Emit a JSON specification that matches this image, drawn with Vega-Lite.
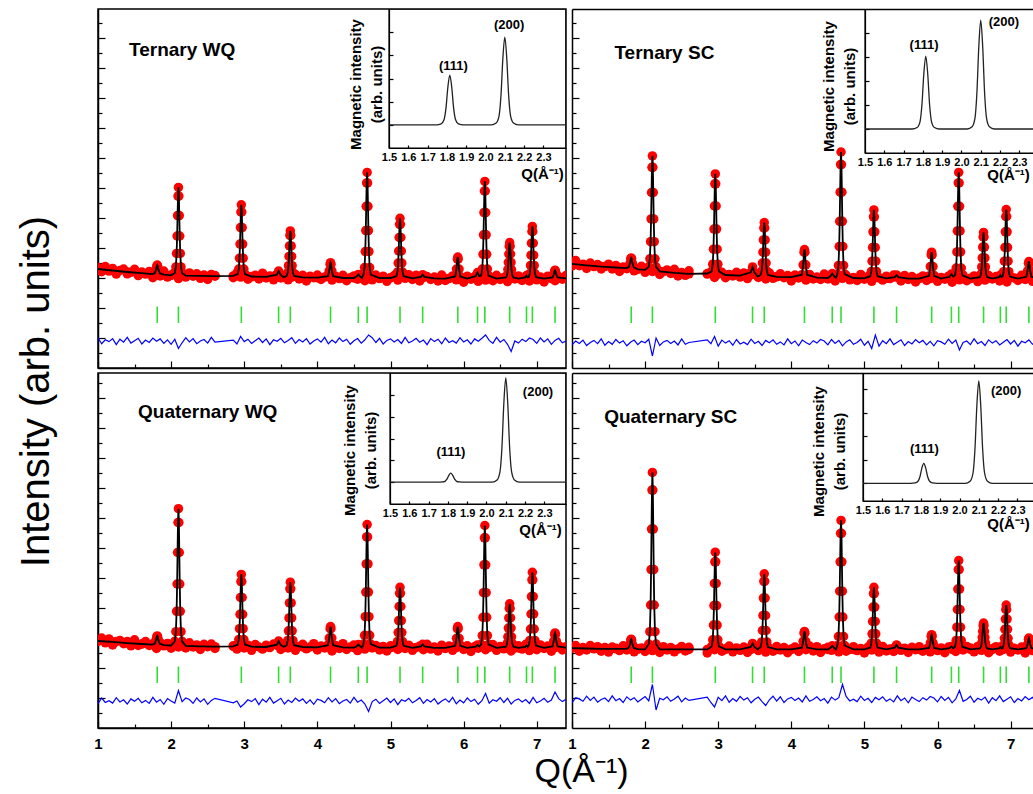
{
"$schema": "https://vega.github.io/schema/vega-lite/v6.json",
"padding": {"left": 15, "top": 8, "right": 0, "bottom": 0},
"background": "white",
"config": {
  "view": {"stroke": "#000", "strokeWidth": 1.5},
  "font": "Liberation Sans",
  "axis": {"grid": false, "domainColor": "#000", "tickColor": "#000", "labelColor": "#000", "titleColor": "#000", "domainWidth": 1.5, "tickWidth": 1.2}
},
"datasets": {
"bragg": [{"q":1.81},{"q":2.10},{"q":2.96},{"q":3.47},{"q":3.63},{"q":4.18},{"q":4.56},{"q":4.68},{"q":5.13},{"q":5.44},{"q":5.92},{"q":6.19},{"q":6.29},{"q":6.63},{"q":6.86},{"q":6.94},{"q":7.25}],
"ins": [
{"q":1.5,"a":0,"b":0,"c":0,"d":0},
{"q":1.745,"a":0,"b":0,"c":0,"d":0},
{"q":1.77,"a":0.04,"b":0.06,"c":0.01,"d":0.02},
{"q":1.785,"a":0.22,"b":0.3,"c":0.04,"d":0.09},
{"q":1.795,"a":0.71,"b":1.0,"c":0.14,"d":0.28},
{"q":1.805,"a":1.63,"b":2.31,"c":0.31,"d":0.65},
{"q":1.815,"a":2.15,"b":3.04,"c":0.41,"d":0.85},
{"q":1.825,"a":1.63,"b":2.31,"c":0.31,"d":0.65},
{"q":1.835,"a":0.71,"b":1.0,"c":0.14,"d":0.28},
{"q":1.845,"a":0.22,"b":0.3,"c":0.04,"d":0.09},
{"q":1.86,"a":0.04,"b":0.06,"c":0.01,"d":0.02},
{"q":1.885,"a":0,"b":0,"c":0,"d":0},
{"q":2.03,"a":0,"b":0,"c":0,"d":0},
{"q":2.055,"a":0.08,"b":0.09,"c":0.1,"d":0.09},
{"q":2.07,"a":0.38,"b":0.45,"c":0.48,"d":0.44},
{"q":2.08,"a":1.25,"b":1.5,"c":1.58,"d":1.44},
{"q":2.09,"a":2.88,"b":3.45,"c":3.63,"d":3.31},
{"q":2.1,"a":3.79,"b":4.54,"c":4.78,"d":4.35},
{"q":2.11,"a":2.88,"b":3.45,"c":3.63,"d":3.31},
{"q":2.12,"a":1.25,"b":1.5,"c":1.58,"d":1.44},
{"q":2.13,"a":0.38,"b":0.45,"c":0.48,"d":0.44},
{"q":2.145,"a":0.08,"b":0.09,"c":0.1,"d":0.09},
{"q":2.17,"a":0,"b":0,"c":0,"d":0},
{"q":2.6,"a":0,"b":0,"c":0,"d":0}
],
"prof": [
{"q":1.0,"a":3.3,"b":3.47,"c":2.9,"d":2.66},
{"q":1.2,"a":3.25,"b":3.42,"c":2.87,"d":2.65},
{"q":1.4,"a":3.2,"b":3.38,"c":2.83,"d":2.64},
{"q":1.6,"a":3.16,"b":3.35,"c":2.8,"d":2.64},
{"q":1.74,"a":3.13,"b":3.33,"c":2.78,"d":2.64},
{"q":1.775,"a":3.16,"b":3.36,"c":2.81,"d":2.67},
{"q":1.792,"a":3.27,"b":3.48,"c":2.91,"d":2.78},
{"q":1.804,"a":3.4,"b":3.64,"c":3.04,"d":2.93},
{"q":1.81,"a":3.43,"b":3.67,"c":3.07,"d":2.96},
{"q":1.816,"a":3.4,"b":3.64,"c":3.04,"d":2.93},
{"q":1.828,"a":3.27,"b":3.48,"c":2.91,"d":2.78},
{"q":1.845,"a":3.16,"b":3.36,"c":2.81,"d":2.67},
{"q":1.9,"a":3.11,"b":3.29,"c":2.76,"d":2.63},
{"q":2.0,"a":3.09,"b":3.27,"c":2.75,"d":2.62},
{"q":2.05,"a":3.17,"b":3.37,"c":2.89,"d":2.8},
{"q":2.065,"a":3.37,"b":3.64,"c":3.21,"d":3.21},
{"q":2.075,"a":3.82,"b":4.21,"c":3.89,"d":4.1},
{"q":2.082,"a":4.4,"b":4.97,"c":4.8,"d":5.28},
{"q":2.088,"a":5.08,"b":5.85,"c":5.85,"d":6.63},
{"q":2.094,"a":5.73,"b":6.69,"c":6.85,"d":7.93},
{"q":2.1,"a":6.02,"b":7.07,"c":7.31,"d":8.52},
{"q":2.106,"a":5.73,"b":6.69,"c":6.85,"d":7.93},
{"q":2.112,"a":5.08,"b":5.85,"c":5.85,"d":6.63},
{"q":2.118,"a":4.4,"b":4.97,"c":4.8,"d":5.28},
{"q":2.125,"a":3.82,"b":4.21,"c":3.89,"d":4.1},
{"q":2.135,"a":3.37,"b":3.64,"c":3.21,"d":3.21},
{"q":2.15,"a":3.17,"b":3.37,"c":2.89,"d":2.8},
{"q":2.2,"a":3.08,"b":3.22,"c":2.74,"d":2.62},
{"q":2.4,"a":3.07,"b":3.17,"c":2.72,"d":2.62},
{"q":2.6,"a":3.06,"b":3.14,"c":2.71,"d":2.62},
{"q":2.85,"a":3.07,"b":3.15,"c":2.72,"d":2.62},
{"q":2.91,"a":3.13,"b":3.22,"c":2.78,"d":2.72},
{"q":2.925,"a":3.3,"b":3.46,"c":2.95,"d":2.94},
{"q":2.935,"a":3.66,"b":3.96,"c":3.31,"d":3.43},
{"q":2.942,"a":4.13,"b":4.63,"c":3.79,"d":4.08},
{"q":2.948,"a":4.68,"b":5.4,"c":4.35,"d":4.82},
{"q":2.954,"a":5.2,"b":6.14,"c":4.88,"d":5.54},
{"q":2.96,"a":5.44,"b":6.47,"c":5.12,"d":5.86},
{"q":2.966,"a":5.2,"b":6.14,"c":4.88,"d":5.54},
{"q":2.972,"a":4.68,"b":5.4,"c":4.35,"d":4.82},
{"q":2.978,"a":4.13,"b":4.63,"c":3.79,"d":4.08},
{"q":2.985,"a":3.66,"b":3.96,"c":3.31,"d":3.43},
{"q":2.995,"a":3.3,"b":3.46,"c":2.95,"d":2.94},
{"q":3.01,"a":3.13,"b":3.22,"c":2.78,"d":2.72},
{"q":3.1,"a":3.05,"b":3.1,"c":2.71,"d":2.62},
{"q":3.3,"a":3.04,"b":3.08,"c":2.7,"d":2.62},
{"q":3.445,"a":3.11,"b":3.19,"c":2.78,"d":2.7},
{"q":3.47,"a":3.23,"b":3.37,"c":2.9,"d":2.82},
{"q":3.495,"a":3.11,"b":3.19,"c":2.78,"d":2.7},
{"q":3.54,"a":3.02,"b":3.05,"c":2.7,"d":2.62},
{"q":3.58,"a":3.07,"b":3.1,"c":2.76,"d":2.7},
{"q":3.595,"a":3.18,"b":3.23,"c":2.92,"d":2.87},
{"q":3.605,"a":3.41,"b":3.5,"c":3.24,"d":3.25},
{"q":3.612,"a":3.72,"b":3.86,"c":3.67,"d":3.75},
{"q":3.618,"a":4.07,"b":4.27,"c":4.17,"d":4.33},
{"q":3.624,"a":4.42,"b":4.67,"c":4.64,"d":4.89},
{"q":3.63,"a":4.57,"b":4.85,"c":4.86,"d":5.14},
{"q":3.636,"a":4.42,"b":4.67,"c":4.64,"d":4.89},
{"q":3.642,"a":4.07,"b":4.27,"c":4.17,"d":4.33},
{"q":3.648,"a":3.72,"b":3.86,"c":3.67,"d":3.75},
{"q":3.655,"a":3.41,"b":3.5,"c":3.24,"d":3.25},
{"q":3.665,"a":3.18,"b":3.23,"c":2.92,"d":2.87},
{"q":3.68,"a":3.07,"b":3.1,"c":2.76,"d":2.7},
{"q":3.8,"a":3.02,"b":3.04,"c":2.7,"d":2.62},
{"q":4.0,"a":3.01,"b":3.03,"c":2.69,"d":2.62},
{"q":4.145,"a":3.06,"b":3.11,"c":2.76,"d":2.68},
{"q":4.162,"a":3.24,"b":3.44,"c":3.0,"d":2.89},
{"q":4.174,"a":3.46,"b":3.86,"c":3.31,"d":3.16},
{"q":4.18,"a":3.51,"b":3.95,"c":3.38,"d":3.22},
{"q":4.186,"a":3.46,"b":3.86,"c":3.31,"d":3.16},
{"q":4.198,"a":3.24,"b":3.44,"c":3.0,"d":2.89},
{"q":4.215,"a":3.06,"b":3.11,"c":2.76,"d":2.68},
{"q":4.35,"a":3.0,"b":3.01,"c":2.69,"d":2.62},
{"q":4.5,"a":3.0,"b":3.0,"c":2.68,"d":2.62},
{"q":4.535,"a":3.05,"b":3.06,"c":2.72,"d":2.67},
{"q":4.56,"a":3.12,"b":3.15,"c":2.78,"d":2.74},
{"q":4.585,"a":3.05,"b":3.06,"c":2.72,"d":2.67},
{"q":4.61,"a":3.0,"b":3.0,"c":2.68,"d":2.62},
{"q":4.63,"a":3.11,"b":3.13,"c":2.8,"d":2.75},
{"q":4.645,"a":3.35,"b":3.42,"c":3.09,"d":3.05},
{"q":4.655,"a":3.88,"b":4.05,"c":3.71,"d":3.7},
{"q":4.662,"a":4.58,"b":4.89,"c":4.53,"d":4.56},
{"q":4.668,"a":5.39,"b":5.86,"c":5.47,"d":5.54},
{"q":4.674,"a":6.17,"b":6.78,"c":6.37,"d":6.49},
{"q":4.68,"a":6.52,"b":7.2,"c":6.78,"d":6.92},
{"q":4.686,"a":6.17,"b":6.78,"c":6.37,"d":6.49},
{"q":4.692,"a":5.39,"b":5.86,"c":5.47,"d":5.54},
{"q":4.698,"a":4.58,"b":4.89,"c":4.53,"d":4.56},
{"q":4.705,"a":3.88,"b":4.05,"c":3.71,"d":3.7},
{"q":4.715,"a":3.35,"b":3.42,"c":3.09,"d":3.05},
{"q":4.73,"a":3.11,"b":3.13,"c":2.8,"d":2.75},
{"q":4.85,"a":3.0,"b":3.0,"c":2.68,"d":2.62},
{"q":5.0,"a":3.0,"b":2.99,"c":2.68,"d":2.62},
{"q":5.08,"a":3.06,"b":3.06,"c":2.74,"d":2.68},
{"q":5.095,"a":3.2,"b":3.22,"c":2.88,"d":2.83},
{"q":5.105,"a":3.5,"b":3.56,"c":3.18,"d":3.14},
{"q":5.112,"a":3.9,"b":4.02,"c":3.58,"d":3.55},
{"q":5.118,"a":4.35,"b":4.54,"c":4.05,"d":4.03},
{"q":5.124,"a":4.79,"b":5.04,"c":4.49,"d":4.48},
{"q":5.13,"a":4.99,"b":5.27,"c":4.69,"d":4.69},
{"q":5.136,"a":4.79,"b":5.04,"c":4.49,"d":4.48},
{"q":5.142,"a":4.35,"b":4.54,"c":4.05,"d":4.03},
{"q":5.148,"a":3.9,"b":4.02,"c":3.58,"d":3.55},
{"q":5.155,"a":3.5,"b":3.56,"c":3.18,"d":3.14},
{"q":5.165,"a":3.2,"b":3.22,"c":2.88,"d":2.83},
{"q":5.18,"a":3.06,"b":3.06,"c":2.74,"d":2.68},
{"q":5.3,"a":2.99,"b":2.99,"c":2.67,"d":2.62},
{"q":5.415,"a":3.04,"b":3.03,"c":2.72,"d":2.68},
{"q":5.44,"a":3.11,"b":3.1,"c":2.79,"d":2.77},
{"q":5.465,"a":3.04,"b":3.03,"c":2.72,"d":2.68},
{"q":5.6,"a":2.99,"b":2.98,"c":2.67,"d":2.62},
{"q":5.75,"a":2.98,"b":2.98,"c":2.67,"d":2.62},
{"q":5.885,"a":3.05,"b":3.07,"c":2.74,"d":2.67},
{"q":5.902,"a":3.3,"b":3.38,"c":2.99,"d":2.84},
{"q":5.914,"a":3.63,"b":3.77,"c":3.31,"d":3.06},
{"q":5.92,"a":3.7,"b":3.86,"c":3.38,"d":3.11},
{"q":5.926,"a":3.63,"b":3.77,"c":3.31,"d":3.06},
{"q":5.938,"a":3.3,"b":3.38,"c":2.99,"d":2.84},
{"q":5.955,"a":3.05,"b":3.07,"c":2.74,"d":2.67},
{"q":6.05,"a":2.98,"b":2.98,"c":2.67,"d":2.62},
{"q":6.165,"a":3.06,"b":3.04,"c":2.71,"d":2.66},
{"q":6.19,"a":3.18,"b":3.13,"c":2.77,"d":2.72},
{"q":6.215,"a":3.06,"b":3.04,"c":2.71,"d":2.66},
{"q":6.24,"a":3.08,"b":3.09,"c":2.79,"d":2.71},
{"q":6.255,"a":3.3,"b":3.33,"c":3.08,"d":2.92},
{"q":6.265,"a":3.79,"b":3.87,"c":3.69,"d":3.36},
{"q":6.272,"a":4.44,"b":4.57,"c":4.51,"d":3.95},
{"q":6.278,"a":5.18,"b":5.39,"c":5.44,"d":4.63},
{"q":6.284,"a":5.9,"b":6.17,"c":6.34,"d":5.28},
{"q":6.29,"a":6.22,"b":6.52,"c":6.75,"d":5.58},
{"q":6.296,"a":5.9,"b":6.17,"c":6.34,"d":5.28},
{"q":6.302,"a":5.18,"b":5.39,"c":5.44,"d":4.63},
{"q":6.308,"a":4.44,"b":4.57,"c":4.51,"d":3.95},
{"q":6.315,"a":3.79,"b":3.87,"c":3.69,"d":3.36},
{"q":6.325,"a":3.3,"b":3.33,"c":3.08,"d":2.92},
{"q":6.34,"a":3.08,"b":3.09,"c":2.79,"d":2.71},
{"q":6.45,"a":2.98,"b":2.98,"c":2.67,"d":2.62},
{"q":6.58,"a":3.02,"b":3.03,"c":2.71,"d":2.65},
{"q":6.595,"a":3.1,"b":3.13,"c":2.82,"d":2.71},
{"q":6.605,"a":3.28,"b":3.37,"c":3.04,"d":2.84},
{"q":6.612,"a":3.52,"b":3.67,"c":3.33,"d":3.02},
{"q":6.618,"a":3.8,"b":4.03,"c":3.67,"d":3.22},
{"q":6.624,"a":4.06,"b":4.37,"c":3.99,"d":3.41},
{"q":6.63,"a":4.18,"b":4.52,"c":4.14,"d":3.5},
{"q":6.636,"a":4.06,"b":4.37,"c":3.99,"d":3.41},
{"q":6.642,"a":3.8,"b":4.03,"c":3.67,"d":3.22},
{"q":6.648,"a":3.52,"b":3.67,"c":3.33,"d":3.02},
{"q":6.655,"a":3.28,"b":3.37,"c":3.04,"d":2.84},
{"q":6.665,"a":3.1,"b":3.13,"c":2.82,"d":2.71},
{"q":6.68,"a":3.02,"b":3.03,"c":2.71,"d":2.65},
{"q":6.75,"a":2.98,"b":2.98,"c":2.67,"d":2.62},
{"q":6.84,"a":3.02,"b":3.03,"c":2.7,"d":2.65},
{"q":6.86,"a":3.08,"b":3.1,"c":2.75,"d":2.7},
{"q":6.875,"a":3.02,"b":3.03,"c":2.7,"d":2.65},
{"q":6.89,"a":3.03,"b":3.05,"c":2.75,"d":2.66},
{"q":6.905,"a":3.15,"b":3.21,"c":2.92,"d":2.77},
{"q":6.915,"a":3.42,"b":3.56,"c":3.3,"d":2.99},
{"q":6.922,"a":3.76,"b":4.02,"c":3.8,"d":3.29},
{"q":6.928,"a":4.16,"b":4.54,"c":4.38,"d":3.63},
{"q":6.934,"a":4.55,"b":5.05,"c":4.94,"d":3.95},
{"q":6.94,"a":4.72,"b":5.28,"c":5.19,"d":4.1},
{"q":6.946,"a":4.55,"b":5.05,"c":4.94,"d":3.95},
{"q":6.952,"a":4.16,"b":4.54,"c":4.38,"d":3.63},
{"q":6.958,"a":3.76,"b":4.02,"c":3.8,"d":3.29},
{"q":6.965,"a":3.42,"b":3.56,"c":3.3,"d":2.99},
{"q":6.975,"a":3.15,"b":3.21,"c":2.92,"d":2.77},
{"q":6.99,"a":3.03,"b":3.05,"c":2.75,"d":2.66},
{"q":7.1,"a":2.98,"b":2.98,"c":2.67,"d":2.62},
{"q":7.215,"a":3.02,"b":3.04,"c":2.72,"d":2.66},
{"q":7.232,"a":3.11,"b":3.24,"c":2.9,"d":2.79},
{"q":7.244,"a":3.23,"b":3.49,"c":3.12,"d":2.96},
{"q":7.25,"a":3.26,"b":3.55,"c":3.17,"d":3.0},
{"q":7.256,"a":3.23,"b":3.49,"c":3.12,"d":2.96},
{"q":7.268,"a":3.11,"b":3.24,"c":2.9,"d":2.79},
{"q":7.285,"a":3.02,"b":3.04,"c":2.72,"d":2.66},
{"q":7.4,"a":2.99,"b":2.98,"c":2.68,"d":2.62}
],
"nz": [
{"q":1.00,"a":3.35,"b":3.40,"c":2.89,"d":2.67,"e":1.01,"f":0.77,"g":0.81,"h":0.84},
{"q":1.05,"a":3.21,"b":3.58,"c":3.00,"d":2.75,"e":0.81,"f":0.90,"g":1.00,"h":1.01},
{"q":1.10,"a":3.38,"b":3.41,"c":2.84,"d":2.56,"e":0.94,"f":0.82,"g":0.85,"h":0.97},
{"q":1.15,"a":3.23,"b":3.46,"c":2.97,"d":2.68,"e":0.88,"f":0.93,"g":0.91,"h":0.89},
{"q":1.20,"a":3.32,"b":3.32,"c":2.77,"d":2.60,"e":0.98,"f":0.75,"g":0.83,"h":1.06},
{"q":1.25,"a":3.13,"b":3.50,"c":2.88,"d":2.75,"e":0.78,"f":0.85,"g":1.01,"h":0.92},
{"q":1.30,"a":3.25,"b":3.38,"c":2.92,"d":2.64,"e":0.96,"f":0.92,"g":0.87,"h":1.03},
{"q":1.35,"a":3.30,"b":3.45,"c":2.81,"d":2.71,"e":0.86,"f":0.81,"g":0.94,"h":0.86},
{"q":1.40,"a":3.14,"b":3.30,"c":2.88,"d":2.56,"e":1.02,"f":0.97,"g":0.80,"h":0.95},
{"q":1.45,"a":3.19,"b":3.38,"c":2.74,"d":2.68,"e":0.83,"f":0.76,"g":0.97,"h":1.00},
{"q":1.50,"a":3.29,"b":3.46,"c":2.94,"d":2.53,"e":0.91,"f":0.88,"g":0.89,"h":0.88},
{"q":1.55,"a":3.08,"b":3.30,"c":2.75,"d":2.70,"e":0.99,"f":0.79,"g":0.99,"h":1.07},
{"q":1.60,"a":3.20,"b":3.42,"c":2.80,"d":2.66,"e":0.80,"f":0.95,"g":0.84,"h":0.91},
{"q":1.65,"a":3.13,"b":3.22,"c":2.88,"d":2.58,"e":0.93,"f":0.83,"g":0.92,"h":0.98},
{"q":1.70,"a":3.22,"b":3.37,"c":2.75,"d":2.74,"e":0.85,"f":0.91,"g":0.82,"h":0.85},
{"q":1.75,"a":3.01,"b":3.31,"c":2.81,"d":2.60,"e":1.00,"f":0.74,"g":1.02,"h":1.04},
{"q":1.80,"a":3.18,"b":3.40,"c":2.65,"d":2.71,"e":0.89,"f":0.86,"g":0.86,"h":0.93},
{"q":1.85,"a":3.07,"b":3.24,"c":2.85,"d":2.54,"e":0.97,"f":0.93,"g":0.95,"h":1.01},
{"q":1.90,"a":3.23,"b":3.31,"c":2.74,"d":2.63,"e":0.82,"f":0.78,"g":0.79,"h":0.87},
{"q":1.95,"a":3.03,"b":3.39,"c":2.82,"d":2.67,"e":0.94,"f":0.89,"g":0.98,"h":0.96},
{"q":2.00,"a":3.10,"b":3.19,"c":2.66,"d":2.55,"e":0.79,"f":0.84,"g":0.90,"h":1.05},
{"q":2.05,"a":3.18,"b":3.31,"c":2.85,"d":2.74,"e":0.96,"f":0.96,"g":0.83,"h":0.90},
{"q":2.10,"a":2.98,"b":3.22,"c":2.70,"d":2.58,"e":0.65,"f":0.40,"g":1.25,"h":1.45},
{"q":2.15,"a":3.11,"b":3.32,"c":2.75,"d":2.65,"e":0.84,"f":1.00,"g":0.88,"h":0.60},
{"q":2.20,"a":3.03,"b":3.12,"c":2.67,"d":2.52,"e":1.01,"f":0.75,"g":1.00,"h":0.99},
{"q":2.25,"a":3.17,"b":3.21,"c":2.84,"d":2.71,"e":0.87,"f":0.87,"g":0.95,"h":0.94},
{"q":2.30,"a":3.06,"b":3.27,"c":2.70,"d":2.60,"e":0.98,"f":0.92,"g":0.82,"h":1.04},
{"q":2.35,"a":3.14,"b":3.15,"c":2.77,"d":2.68,"e":0.81,"f":0.82,"g":1.00,"h":0.89},
{"q":2.40,"a":2.99,"b":3.29,"c":2.62,"d":2.54,"e":0.90,"f":0.90,"g":0.87,"h":0.97},
{"q":2.45,"a":3.10,"b":3.07,"c":2.79,"d":2.63,"e":0.95,"f":0.77,"g":0.97,"h":1.06},
{"q":2.50,"a":2.95,"b":3.18,"c":2.71,"d":2.72,"e":0.83,"f":0.97,"g":0.79,"h":0.87},
{"q":2.55,"a":3.12,"b":3.09,"c":2.80,"d":2.57,"e":1.02,"f":0.79,"g":0.92,"h":1.00},
{"q":2.60,"a":3.08,"b":3.24,"c":2.65,"d":2.69,"e":0.86,"f":0.85,"g":0.99,"h":0.92},
{"q":2.85,"a":3.01,"b":3.13,"c":2.74,"d":2.50,"e":0.93,"f":0.94,"g":0.84,"h":1.03},
{"q":2.90,"a":3.17,"b":3.20,"c":2.63,"d":2.66,"e":0.80,"f":0.81,"g":0.90,"h":0.85},
{"q":2.95,"a":3.03,"b":3.02,"c":2.83,"d":2.61,"e":1.05,"f":1.05,"g":0.70,"h":0.70},
{"q":3.00,"a":3.14,"b":3.13,"c":2.67,"d":2.71,"e":0.88,"f":0.73,"g":0.81,"h":1.02},
{"q":3.05,"a":2.96,"b":3.19,"c":2.76,"d":2.56,"e":0.96,"f":0.93,"g":0.94,"h":0.91},
{"q":3.10,"a":3.04,"b":3.01,"c":2.59,"d":2.64,"e":0.82,"f":0.83,"g":0.88,"h":1.07},
{"q":3.15,"a":3.09,"b":3.12,"c":2.78,"d":2.73,"e":0.91,"f":0.91,"g":0.98,"h":0.86},
{"q":3.20,"a":2.97,"b":3.07,"c":2.70,"d":2.54,"e":1.00,"f":0.76,"g":0.78,"h":0.98},
{"q":3.25,"a":3.16,"b":3.19,"c":2.63,"d":2.67,"e":0.85,"f":0.95,"g":0.96,"h":0.89},
{"q":3.30,"a":3.00,"b":3.03,"c":2.76,"d":2.59,"e":0.97,"f":0.80,"g":0.86,"h":1.05},
{"q":3.35,"a":3.07,"b":3.17,"c":2.68,"d":2.70,"e":0.78,"f":0.86,"g":1.02,"h":0.93},
{"q":3.40,"a":2.94,"b":2.98,"c":2.80,"d":2.52,"e":0.94,"f":0.78,"g":0.83,"h":1.01},
{"q":3.45,"a":3.13,"b":3.10,"c":2.75,"d":2.62,"e":0.89,"f":0.96,"g":0.91,"h":0.84},
{"q":3.50,"a":3.00,"b":3.12,"c":2.62,"d":2.69,"e":0.99,"f":0.82,"g":0.99,"h":0.96},
{"q":3.55,"a":3.08,"b":3.02,"c":2.80,"d":2.58,"e":0.84,"f":0.89,"g":0.80,"h":1.03},
{"q":3.60,"a":2.94,"b":3.10,"c":2.67,"d":2.74,"e":0.92,"f":0.75,"g":0.93,"h":0.88},
{"q":3.65,"a":3.03,"b":2.97,"c":2.77,"d":2.53,"e":1.01,"f":0.92,"g":0.85,"h":0.75},
{"q":3.70,"a":3.12,"b":3.17,"c":2.59,"d":2.65,"e":0.82,"f":0.84,"g":1.00,"h":0.94},
{"q":3.75,"a":2.97,"b":2.99,"c":2.72,"d":2.56,"e":0.95,"f":0.94,"g":0.89,"h":1.06},
{"q":3.80,"a":3.09,"b":3.05,"c":2.79,"d":2.72,"e":0.87,"f":0.79,"g":0.97,"h":0.90},
{"q":3.85,"a":2.90,"b":3.14,"c":2.64,"d":2.60,"e":0.98,"f":0.87,"g":0.82,"h":1.04},
{"q":3.90,"a":3.06,"b":3.01,"c":2.70,"d":2.68,"e":0.80,"f":0.77,"g":0.94,"h":0.85},
{"q":3.95,"a":3.01,"b":3.08,"c":2.81,"d":2.51,"e":0.90,"f":0.97,"g":0.79,"h":0.97},
{"q":4.00,"a":3.10,"b":2.90,"c":2.60,"d":2.63,"e":0.97,"f":0.81,"g":0.96,"h":1.02},
{"q":4.05,"a":2.95,"b":3.10,"c":2.73,"d":2.70,"e":0.86,"f":0.90,"g":0.92,"h":0.92},
{"q":4.10,"a":3.03,"b":3.00,"c":2.67,"d":2.55,"e":1.02,"f":0.74,"g":0.84,"h":1.00},
{"q":4.15,"a":3.12,"b":3.08,"c":2.77,"d":2.66,"e":0.81,"f":0.93,"g":1.01,"h":0.87},
{"q":4.20,"a":2.93,"b":2.93,"c":2.57,"d":2.61,"e":0.93,"f":0.85,"g":0.87,"h":1.07},
{"q":4.25,"a":3.06,"b":3.12,"c":2.75,"d":2.73,"e":0.84,"f":0.78,"g":0.98,"h":0.89},
{"q":4.30,"a":2.98,"b":2.97,"c":2.65,"d":2.57,"e":1.00,"f":0.91,"g":0.81,"h":0.95},
{"q":4.35,"a":3.09,"b":3.03,"c":2.81,"d":2.71,"e":0.88,"f":0.83,"g":0.90,"h":1.04},
{"q":4.40,"a":2.91,"b":2.95,"c":2.62,"d":2.52,"e":0.96,"f":0.95,"g":0.95,"h":0.91},
{"q":4.45,"a":3.01,"b":3.13,"c":2.70,"d":2.64,"e":0.79,"f":0.90,"g":0.83,"h":0.98},
{"q":4.50,"a":3.07,"b":2.97,"c":2.77,"d":2.69,"e":0.91,"f":0.77,"g":1.02,"h":0.83},
{"q":4.55,"a":2.96,"b":3.04,"c":2.58,"d":2.59,"e":0.98,"f":0.95,"g":0.86,"h":1.03},
{"q":4.60,"a":3.12,"b":2.90,"c":2.71,"d":2.67,"e":0.83,"f":0.82,"g":0.93,"h":0.93},
{"q":4.65,"a":2.91,"b":3.07,"c":2.63,"d":2.54,"e":0.94,"f":0.92,"g":0.80,"h":1.01},
{"q":4.70,"a":3.03,"b":2.99,"c":2.78,"d":2.74,"e":1.10,"f":0.74,"g":0.55,"h":1.45},
{"q":4.75,"a":2.94,"b":3.09,"c":2.67,"d":2.56,"e":1.01,"f":0.87,"g":0.88,"h":1.05},
{"q":4.80,"a":3.10,"b":2.94,"c":2.75,"d":2.62,"e":0.85,"f":0.94,"g":0.96,"h":0.90},
{"q":4.85,"a":2.98,"b":3.02,"c":2.60,"d":2.71,"e":0.99,"f":0.79,"g":0.82,"h":0.96},
{"q":4.90,"a":3.06,"b":2.92,"c":2.72,"d":2.58,"e":0.80,"f":0.85,"g":0.91,"h":0.88},
{"q":4.95,"a":2.89,"b":3.12,"c":2.57,"d":2.65,"e":0.92,"f":0.96,"g":1.00,"h":1.06},
{"q":5.00,"a":3.01,"b":2.96,"c":2.74,"d":2.50,"e":0.97,"f":0.76,"g":0.85,"h":0.92},
{"q":5.05,"a":3.08,"b":3.05,"c":2.70,"d":2.70,"e":0.87,"f":0.89,"g":0.97,"h":0.99},
{"q":5.10,"a":2.93,"b":2.89,"c":2.62,"d":2.60,"e":0.95,"f":0.65,"g":0.78,"h":0.85},
{"q":5.15,"a":3.04,"b":3.08,"c":2.79,"d":2.68,"e":0.82,"f":1.10,"g":0.94,"h":1.02},
{"q":5.20,"a":2.99,"b":3.00,"c":2.65,"d":2.53,"e":1.02,"f":0.73,"g":0.89,"h":0.94},
{"q":5.25,"a":3.11,"b":2.93,"c":2.76,"d":2.72,"e":0.84,"f":0.91,"g":0.99,"h":1.04},
{"q":5.30,"a":2.95,"b":3.06,"c":2.59,"d":2.57,"e":0.90,"f":0.81,"g":0.84,"h":0.89},
{"q":5.35,"a":3.09,"b":2.98,"c":2.68,"d":2.63,"e":0.99,"f":0.97,"g":0.92,"h":0.97},
{"q":5.40,"a":2.90,"b":3.10,"c":2.73,"d":2.55,"e":0.86,"f":0.78,"g":1.01,"h":0.87},
{"q":5.45,"a":3.02,"b":3.05,"c":2.61,"d":2.73,"e":0.93,"f":0.86,"g":0.82,"h":1.07},
{"q":5.50,"a":3.05,"b":2.90,"c":2.79,"d":2.59,"e":0.78,"f":0.94,"g":0.95,"h":0.91},
{"q":5.55,"a":2.95,"b":3.08,"c":2.63,"d":2.66,"e":0.98,"f":0.75,"g":0.87,"h":1.00},
{"q":5.60,"a":3.03,"b":2.95,"c":2.70,"d":2.52,"e":0.88,"f":0.88,"g":0.98,"h":0.84},
{"q":5.65,"a":2.90,"b":3.05,"c":2.57,"d":2.69,"e":0.96,"f":0.80,"g":0.80,"h":1.03},
{"q":5.70,"a":3.10,"b":2.87,"c":2.76,"d":2.61,"e":0.81,"f":0.95,"g":0.90,"h":0.95},
{"q":5.75,"a":2.92,"b":3.00,"c":2.65,"d":2.71,"e":1.00,"f":0.84,"g":0.97,"h":0.88},
{"q":5.80,"a":2.98,"b":3.07,"c":2.73,"d":2.56,"e":0.85,"f":0.92,"g":0.86,"h":1.01},
{"q":5.85,"a":3.07,"b":2.92,"c":2.59,"d":2.64,"e":0.91,"f":0.77,"g":1.02,"h":0.93},
{"q":5.90,"a":2.94,"b":2.98,"c":2.68,"d":2.54,"e":0.83,"f":0.89,"g":0.81,"h":1.05},
{"q":5.95,"a":3.01,"b":3.09,"c":2.77,"d":2.74,"e":1.01,"f":0.74,"g":0.93,"h":1.00},
{"q":6.00,"a":2.86,"b":2.89,"c":2.62,"d":2.58,"e":0.87,"f":0.91,"g":0.84,"h":0.87},
{"q":6.05,"a":3.06,"b":3.02,"c":2.74,"d":2.67,"e":0.94,"f":0.87,"g":1.00,"h":1.05},
{"q":6.10,"a":2.96,"b":2.96,"c":2.55,"d":2.51,"e":0.80,"f":0.79,"g":0.88,"h":0.92},
{"q":6.15,"a":3.04,"b":3.06,"c":2.71,"d":2.70,"e":0.97,"f":0.96,"g":0.96,"h":1.02},
{"q":6.20,"a":2.89,"b":2.86,"c":2.66,"d":2.62,"e":0.89,"f":0.82,"g":0.79,"h":0.84},
{"q":6.25,"a":3.08,"b":3.04,"c":2.76,"d":2.55,"e":0.99,"f":0.93,"g":0.91,"h":0.97},
{"q":6.30,"a":2.93,"b":2.94,"c":2.61,"d":2.68,"e":1.10,"f":0.60,"g":1.15,"h":1.25},
{"q":6.35,"a":2.99,"b":3.10,"c":2.69,"d":2.60,"e":0.92,"f":0.85,"g":0.83,"h":0.89},
{"q":6.40,"a":2.91,"b":2.91,"c":2.78,"d":2.72,"e":0.82,"f":0.90,"g":0.94,"h":0.95},
{"q":6.45,"a":3.09,"b":2.99,"c":2.59,"d":2.67,"e":1.02,"f":0.78,"g":0.89,"h":1.06},
{"q":6.50,"a":2.95,"b":3.07,"c":2.72,"d":2.54,"e":0.86,"f":0.97,"g":1.01,"h":0.86},
{"q":6.55,"a":3.02,"b":2.88,"c":2.64,"d":2.72,"e":0.95,"f":0.81,"g":0.85,"h":0.99},
{"q":6.60,"a":2.88,"b":3.01,"c":2.75,"d":2.59,"e":0.79,"f":0.88,"g":0.99,"h":0.93},
{"q":6.65,"a":3.05,"b":2.93,"c":2.57,"d":2.69,"e":0.55,"f":0.75,"g":0.80,"h":1.03},
{"q":6.70,"a":2.97,"b":3.08,"c":2.67,"d":2.51,"e":0.90,"f":0.94,"g":0.92,"h":0.83},
{"q":6.75,"a":3.07,"b":2.97,"c":2.74,"d":2.64,"e":0.83,"f":0.83,"g":0.97,"h":1.01},
{"q":6.80,"a":2.92,"b":3.05,"c":2.63,"d":2.71,"e":0.96,"f":0.91,"g":0.87,"h":0.91},
{"q":6.85,"a":3.00,"b":2.90,"c":2.79,"d":2.56,"e":0.88,"f":0.77,"g":0.95,"h":1.07},
{"q":6.90,"a":2.90,"b":3.02,"c":2.58,"d":2.62,"e":1.00,"f":0.86,"g":0.82,"h":0.88},
{"q":6.95,"a":3.10,"b":2.87,"c":2.70,"d":2.73,"e":0.95,"f":0.95,"g":1.02,"h":0.96},
{"q":7.00,"a":2.94,"b":3.04,"c":2.61,"d":2.53,"e":0.82,"f":0.80,"g":0.84,"h":1.04},
{"q":7.05,"a":3.03,"b":3.00,"c":2.77,"d":2.66,"e":1.00,"f":0.92,"g":0.90,"h":0.85},
{"q":7.10,"a":2.87,"b":2.92,"c":2.65,"d":2.60,"e":0.87,"f":0.73,"g":0.99,"h":0.98},
{"q":7.15,"a":3.06,"b":3.09,"c":2.73,"d":2.70,"e":0.97,"f":0.89,"g":0.86,"h":0.90},
{"q":7.20,"a":2.98,"b":2.95,"c":2.56,"d":2.50,"e":0.79,"f":0.84,"g":0.93,"h":1.05},
{"q":7.25,"a":2.91,"b":3.06,"c":2.68,"d":2.68,"e":0.92,"f":0.94,"g":1.20,"h":0.94},
{"q":7.30,"a":3.04,"b":2.89,"c":2.75,"d":2.58,"e":0.99,"f":0.79,"g":0.98,"h":1.02},
{"q":7.35,"a":2.96,"b":2.98,"c":2.60,"d":2.74,"e":0.84,"f":0.87,"g":0.88,"h":0.87},
{"q":7.40,"a":3.08,"b":3.03,"c":2.71,"d":2.55,"e":0.90,"f":0.96,"g":0.96,"h":0.99}
]
},
"columns": 2,
"spacing": {"row": 5, "column": 6},
"bounds": "flush",
"concat": [
{
 "width": 468, "height": 359,
 "resolve": {"scale": {"x": "independent", "y": "independent"}, "axis": {"x": "independent", "y": "independent"}},
 "layer": [
  {"data": {"name": "nz"}, "mark": {"type": "circle", "size": 90, "color": "#ff0000", "opacity": 1, "clip": true},
   "encoding": {
    "x": {"field": "q", "type": "quantitative", "scale": {"domain": [1, 7.4], "nice": false, "zero": false}, "axis": {"orient": "bottom", "values": [1,2,3,4,5,6,7], "tickSize": -7, "labels": false, "title": null}},
    "y": {"field": "a", "type": "quantitative", "scale": {"domain": [0, 11.967], "nice": false, "zero": false}, "axis": {"orient": "left", "values": [1,2,3,4,5,6,7,8,9,10,11], "tickSize": -7, "labels": false, "title": "Intensity (arb. units)", "titleFontSize": 40, "titleFontWeight": "normal", "titleAngle": 270, "titleX": -62, "titleY": 382, "titleAlign": "center", "titleBaseline": "middle"}}}},
  {"data": {"name": "prof"}, "mark": {"type": "circle", "size": 90, "color": "#ff0000", "opacity": 1, "clip": true},
   "encoding": {
    "x": {"field": "q", "type": "quantitative", "scale": {"domain": [1, 7.4], "nice": false, "zero": false}, "axis": {"orient": "bottom", "values": [1.5,2.5,3.5,4.5,5.5,6.5], "tickSize": -4, "labels": false, "domain": false, "title": null}},
    "y": {"field": "a", "type": "quantitative", "scale": {"domain": [0, 11.967], "nice": false, "zero": false}, "axis": {"orient": "left", "values": [0.5,1.5,2.5,3.5,4.5,5.5,6.5,7.5,8.5,9.5,10.5,11.5], "tickSize": -4, "labels": false, "domain": false, "title": null}}}},
  {"data": {"name": "prof"}, "mark": {"type": "line", "color": "#000", "strokeWidth": 1.8, "clip": true},
   "encoding": {
    "x": {"field": "q", "type": "quantitative", "scale": {"domain": [1, 7.4], "nice": false, "zero": false}, "axis": null},
    "y": {"field": "a", "type": "quantitative", "scale": {"domain": [0, 11.967], "nice": false, "zero": false}, "axis": null}}},
  {"data": {"name": "nz"}, "mark": {"type": "line", "color": "#0000ff", "strokeWidth": 1.2, "clip": true},
   "encoding": {
    "x": {"field": "q", "type": "quantitative", "scale": {"domain": [1, 7.4], "nice": false, "zero": false}, "axis": null},
    "y": {"field": "e", "type": "quantitative", "scale": {"domain": [0, 11.967], "nice": false, "zero": false}, "axis": null}}},
  {"data": {"name": "bragg"}, "mark": {"type": "rule", "color": "#33dd33", "strokeWidth": 1.6},
   "encoding": {
    "x": {"field": "q", "type": "quantitative", "scale": {"domain": [1, 7.4], "nice": false, "zero": false}, "axis": null},
    "y": {"datum": 1.5, "type": "quantitative", "scale": {"domain": [0, 11.967], "nice": false, "zero": false}, "axis": null},
    "y2": {"datum": 2.05}}},
  {"data": {"values": [{}]}, "mark": {"type": "text", "text": "Ternary WQ", "fontSize": 19, "fontWeight": "bold", "align": "left", "baseline": "alphabetic", "color": "#000"},
   "encoding": {
    "x": {"datum": 1.424, "type": "quantitative", "scale": {"domain": [1, 7.4], "nice": false, "zero": false}, "axis": null},
    "y": {"datum": 10.4, "type": "quantitative", "scale": {"domain": [0, 11.967], "nice": false, "zero": false}, "axis": null}}},
  {"data": {"values": [{}]}, "mark": {"type": "rect", "fillOpacity": 0, "stroke": "#000", "strokeWidth": 1.2, "clip": true},
   "encoding": {
    "x": {"datum": 1.5, "type": "quantitative", "scale": {"domain": [1.5, 2.417], "range": [291, 468], "nice": false, "zero": false}, "axis": null},
    "x2": {"datum": 2.417},
    "y": {"datum": -1, "type": "quantitative", "scale": {"domain": [-1, 5], "range": [139, 0], "nice": false, "zero": false}, "axis": null},
    "y2": {"datum": 5}}},
  {"data": {"name": "ins"}, "mark": {"type": "line", "color": "#222", "strokeWidth": 1.3, "interpolate": "monotone", "clip": true},
   "encoding": {
    "x": {"field": "q", "type": "quantitative", "scale": {"domain": [1.5, 2.417], "range": [291, 468], "nice": false, "zero": false},
          "axis": {"orient": "bottom", "offset": -220, "values": [1.5,1.6,1.7,1.8,1.9,2.0,2.1,2.2,2.3], "format": ".1f", "tickSize": -3, "labelFontSize": 11, "labelFontWeight": "bold", "labelPadding": 6, "labelOverlap": false, "labelFlush": false, "domainWidth": 1.2, "title": "Q(Å⁻¹)", "titleFontSize": 15, "titleFontWeight": "bold", "titleX": 444, "titleY": 25, "titleAlign": "center", "titleBaseline": "middle"}},
    "y": {"field": "a", "type": "quantitative", "scale": {"domain": [-1, 5], "range": [139, 0], "nice": false, "zero": false},
          "axis": {"orient": "left", "offset": -291, "values": [0,1,2,3,4], "tickSize": -4, "labels": false, "domainWidth": 1.2, "title": ["Magnetic intensity", "(arb. units)"], "titleFontSize": 15, "titleFontWeight": "bold", "titleAngle": 270, "titleX": -34, "titleY": 75, "titleAlign": "center", "titleBaseline": "middle", "titleLineHeight": 21}}}},
  {"data": {"values": [{}]}, "mark": {"type": "text", "text": "(111)", "fontSize": 13, "fontWeight": "bold", "color": "#000"},
   "encoding": {
    "x": {"datum": 1.834, "type": "quantitative", "scale": {"domain": [1.5, 2.417], "range": [291, 468], "nice": false, "zero": false}, "axis": null},
    "y": {"datum": 2.52, "type": "quantitative", "scale": {"domain": [-1, 5], "range": [139, 0], "nice": false, "zero": false}, "axis": null}}},
  {"data": {"values": [{}]}, "mark": {"type": "text", "text": "(200)", "fontSize": 13, "fontWeight": "bold", "color": "#000"},
   "encoding": {
    "x": {"datum": 2.122, "type": "quantitative", "scale": {"domain": [1.5, 2.417], "range": [291, 468], "nice": false, "zero": false}, "axis": null},
    "y": {"datum": 4.29, "type": "quantitative", "scale": {"domain": [-1, 5], "range": [139, 0], "nice": false, "zero": false}, "axis": null}}}
 ]
},
{
 "width": 462, "height": 359,
 "view": {"stroke": null},
 "resolve": {"scale": {"x": "independent", "y": "independent"}, "axis": {"x": "independent", "y": "independent"}},
 "layer": [
  {"data": {"name": "nz"}, "mark": {"type": "circle", "size": 90, "color": "#ff0000", "opacity": 1, "clip": true},
   "encoding": {
    "x": {"field": "q", "type": "quantitative", "scale": {"domain": [1, 7.32], "nice": false, "zero": false}, "axis": {"orient": "bottom", "values": [1,2,3,4,5,6,7], "tickSize": -7, "labels": false, "title": null}},
    "y": {"field": "b", "type": "quantitative", "scale": {"domain": [0, 11.967], "nice": false, "zero": false}, "axis": {"orient": "left", "values": [1,2,3,4,5,6,7,8,9,10,11], "tickSize": -7, "labels": false, "title": null}}}},
  {"data": {"name": "prof"}, "mark": {"type": "circle", "size": 90, "color": "#ff0000", "opacity": 1, "clip": true},
   "encoding": {
    "x": {"field": "q", "type": "quantitative", "scale": {"domain": [1, 7.32], "nice": false, "zero": false}, "axis": {"orient": "bottom", "values": [1.5,2.5,3.5,4.5,5.5,6.5], "tickSize": -4, "labels": false, "domain": false, "title": null}},
    "y": {"field": "b", "type": "quantitative", "scale": {"domain": [0, 11.967], "nice": false, "zero": false}, "axis": {"orient": "left", "values": [0.5,1.5,2.5,3.5,4.5,5.5,6.5,7.5,8.5,9.5,10.5,11.5], "tickSize": -4, "labels": false, "domain": false, "title": null}}}},
  {"data": {"name": "prof"}, "mark": {"type": "line", "color": "#000", "strokeWidth": 1.8, "clip": true},
   "encoding": {
    "x": {"field": "q", "type": "quantitative", "scale": {"domain": [1, 7.32], "nice": false, "zero": false}, "axis": null},
    "y": {"field": "b", "type": "quantitative", "scale": {"domain": [0, 11.967], "nice": false, "zero": false}, "axis": null}}},
  {"data": {"name": "nz"}, "mark": {"type": "line", "color": "#0000ff", "strokeWidth": 1.2, "clip": true},
   "encoding": {
    "x": {"field": "q", "type": "quantitative", "scale": {"domain": [1, 7.32], "nice": false, "zero": false}, "axis": {"orient": "top", "ticks": false, "labels": false, "domain": true, "title": null}},
    "y": {"field": "f", "type": "quantitative", "scale": {"domain": [0, 11.967], "nice": false, "zero": false}, "axis": null}}},
  {"data": {"name": "bragg"}, "mark": {"type": "rule", "color": "#33dd33", "strokeWidth": 1.6},
   "encoding": {
    "x": {"field": "q", "type": "quantitative", "scale": {"domain": [1, 7.32], "nice": false, "zero": false}, "axis": null},
    "y": {"datum": 1.5, "type": "quantitative", "scale": {"domain": [0, 11.967], "nice": false, "zero": false}, "axis": null},
    "y2": {"datum": 2.05}}},
  {"data": {"values": [{}]}, "mark": {"type": "text", "text": "Ternary SC", "fontSize": 19, "fontWeight": "bold", "align": "left", "baseline": "alphabetic", "color": "#000"},
   "encoding": {
    "x": {"datum": 1.58, "type": "quantitative", "scale": {"domain": [1, 7.32], "nice": false, "zero": false}, "axis": null},
    "y": {"datum": 10.3, "type": "quantitative", "scale": {"domain": [0, 11.967], "nice": false, "zero": false}, "axis": null}}},
  {"data": {"values": [{}]}, "mark": {"type": "rect", "fillOpacity": 0, "stroke": "#000", "strokeWidth": 1.2, "clip": true},
   "encoding": {
    "x": {"datum": 1.5, "type": "quantitative", "scale": {"domain": [1.5, 2.376], "range": [293, 462], "nice": false, "zero": false}, "axis": null},
    "x2": {"datum": 2.6},
    "y": {"datum": -1, "type": "quantitative", "scale": {"domain": [-1, 5], "range": [144, 0], "nice": false, "zero": false}, "axis": null},
    "y2": {"datum": 5}}},
  {"data": {"name": "ins"}, "mark": {"type": "line", "color": "#222", "strokeWidth": 1.3, "interpolate": "monotone", "clip": true},
   "encoding": {
    "x": {"field": "q", "type": "quantitative", "scale": {"domain": [1.5, 2.376], "range": [293, 462], "nice": false, "zero": false},
          "axis": {"orient": "bottom", "offset": -215, "values": [1.5,1.6,1.7,1.8,1.9,2.0,2.1,2.2,2.3], "format": ".1f", "tickSize": -3, "labelFontSize": 11, "labelFontWeight": "bold", "labelPadding": 6, "labelOverlap": false, "labelFlush": false, "domainWidth": 1.2, "title": "Q(Å⁻¹)", "titleFontSize": 15, "titleFontWeight": "bold", "titleX": 436, "titleY": 21, "titleAlign": "center", "titleBaseline": "middle"}},
    "y": {"field": "b", "type": "quantitative", "scale": {"domain": [-1, 5], "range": [144, 0], "nice": false, "zero": false},
          "axis": {"orient": "left", "offset": -293, "values": [0,1,2,3,4], "tickSize": -4, "labels": false, "domainWidth": 1.2, "title": ["Magnetic intensity", "(arb. units)"], "titleFontSize": 15, "titleFontWeight": "bold", "titleAngle": 270, "titleX": -37, "titleY": 77, "titleAlign": "center", "titleBaseline": "middle", "titleLineHeight": 21}}}},
  {"data": {"values": [{}]}, "mark": {"type": "text", "text": "(111)", "fontSize": 13, "fontWeight": "bold", "color": "#000"},
   "encoding": {
    "x": {"datum": 1.806, "type": "quantitative", "scale": {"domain": [1.5, 2.376], "range": [293, 462], "nice": false, "zero": false}, "axis": null},
    "y": {"datum": 3.5, "type": "quantitative", "scale": {"domain": [-1, 5], "range": [144, 0], "nice": false, "zero": false}, "axis": null}}},
  {"data": {"values": [{}]}, "mark": {"type": "text", "text": "(200)", "fontSize": 13, "fontWeight": "bold", "color": "#000"},
   "encoding": {
    "x": {"datum": 2.22, "type": "quantitative", "scale": {"domain": [1.5, 2.376], "range": [293, 462], "nice": false, "zero": false}, "axis": null},
    "y": {"datum": 4.46, "type": "quantitative", "scale": {"domain": [-1, 5], "range": [144, 0], "nice": false, "zero": false}, "axis": null}}}
 ]
},
{
 "width": 468, "height": 355,
 "resolve": {"scale": {"x": "independent", "y": "independent"}, "axis": {"x": "independent", "y": "independent"}},
 "layer": [
  {"data": {"name": "nz"}, "mark": {"type": "circle", "size": 90, "color": "#ff0000", "opacity": 1, "clip": true},
   "encoding": {
    "x": {"field": "q", "type": "quantitative", "scale": {"domain": [1, 7.4], "nice": false, "zero": false}, "axis": {"orient": "bottom", "values": [1,2,3,4,5,6,7], "tickSize": -7, "labelFontSize": 15, "labelFontWeight": "bold", "labelPadding": 15, "labelFlush": false, "labelOverlap": false, "title": "Q(Å⁻¹)", "titleFontSize": 34, "titleFontWeight": "normal", "titleX": 483, "titleY": 43, "titleAlign": "center", "titleBaseline": "middle"}},
    "y": {"field": "c", "type": "quantitative", "scale": {"domain": [0, 11.833], "nice": false, "zero": false}, "axis": {"orient": "left", "values": [1,2,3,4,5,6,7,8,9,10,11], "tickSize": -7, "labels": false, "title": null}}}},
  {"data": {"name": "prof"}, "mark": {"type": "circle", "size": 90, "color": "#ff0000", "opacity": 1, "clip": true},
   "encoding": {
    "x": {"field": "q", "type": "quantitative", "scale": {"domain": [1, 7.4], "nice": false, "zero": false}, "axis": {"orient": "bottom", "values": [1.5,2.5,3.5,4.5,5.5,6.5], "tickSize": -4, "labels": false, "domain": false, "title": null}},
    "y": {"field": "c", "type": "quantitative", "scale": {"domain": [0, 11.833], "nice": false, "zero": false}, "axis": {"orient": "left", "values": [0.5,1.5,2.5,3.5,4.5,5.5,6.5,7.5,8.5,9.5,10.5,11.5], "tickSize": -4, "labels": false, "domain": false, "title": null}}}},
  {"data": {"name": "prof"}, "mark": {"type": "line", "color": "#000", "strokeWidth": 1.8, "clip": true},
   "encoding": {
    "x": {"field": "q", "type": "quantitative", "scale": {"domain": [1, 7.4], "nice": false, "zero": false}, "axis": null},
    "y": {"field": "c", "type": "quantitative", "scale": {"domain": [0, 11.833], "nice": false, "zero": false}, "axis": null}}},
  {"data": {"name": "nz"}, "mark": {"type": "line", "color": "#0000ff", "strokeWidth": 1.2, "clip": true},
   "encoding": {
    "x": {"field": "q", "type": "quantitative", "scale": {"domain": [1, 7.4], "nice": false, "zero": false}, "axis": null},
    "y": {"field": "g", "type": "quantitative", "scale": {"domain": [0, 11.833], "nice": false, "zero": false}, "axis": null}}},
  {"data": {"name": "bragg"}, "mark": {"type": "rule", "color": "#33dd33", "strokeWidth": 1.6},
   "encoding": {
    "x": {"field": "q", "type": "quantitative", "scale": {"domain": [1, 7.4], "nice": false, "zero": false}, "axis": null},
    "y": {"datum": 1.5, "type": "quantitative", "scale": {"domain": [0, 11.833], "nice": false, "zero": false}, "axis": null},
    "y2": {"datum": 2.05}}},
  {"data": {"values": [{}]}, "mark": {"type": "text", "text": "Quaternary WQ", "fontSize": 19, "fontWeight": "bold", "align": "left", "baseline": "alphabetic", "color": "#000"},
   "encoding": {
    "x": {"datum": 1.547, "type": "quantitative", "scale": {"domain": [1, 7.4], "nice": false, "zero": false}, "axis": null},
    "y": {"datum": 10.33, "type": "quantitative", "scale": {"domain": [0, 11.833], "nice": false, "zero": false}, "axis": null}}},
  {"data": {"values": [{}]}, "mark": {"type": "rect", "fillOpacity": 0, "stroke": "#000", "strokeWidth": 1.2, "clip": true},
   "encoding": {
    "x": {"datum": 1.5, "type": "quantitative", "scale": {"domain": [1.5, 2.412], "range": [292, 468], "nice": false, "zero": false}, "axis": null},
    "x2": {"datum": 2.412},
    "y": {"datum": -1, "type": "quantitative", "scale": {"domain": [-1, 5], "range": [131, 0], "nice": false, "zero": false}, "axis": null},
    "y2": {"datum": 5}}},
  {"data": {"name": "ins"}, "mark": {"type": "line", "color": "#222", "strokeWidth": 1.3, "interpolate": "monotone", "clip": true},
   "encoding": {
    "x": {"field": "q", "type": "quantitative", "scale": {"domain": [1.5, 2.412], "range": [292, 468], "nice": false, "zero": false},
          "axis": {"orient": "bottom", "offset": -224, "values": [1.5,1.6,1.7,1.8,1.9,2.0,2.1,2.2,2.3], "format": ".1f", "tickSize": -3, "labelFontSize": 11, "labelFontWeight": "bold", "labelPadding": 6, "labelOverlap": false, "labelFlush": false, "domainWidth": 1.2, "title": "Q(Å⁻¹)", "titleFontSize": 15, "titleFontWeight": "bold", "titleX": 442, "titleY": 25, "titleAlign": "center", "titleBaseline": "middle"}},
    "y": {"field": "c", "type": "quantitative", "scale": {"domain": [-1, 5], "range": [131, 0], "nice": false, "zero": false},
          "axis": {"orient": "left", "offset": -292, "values": [0,1,2,3,4], "tickSize": -4, "labels": false, "domainWidth": 1.2, "title": ["Magnetic intensity", "(arb. units)"], "titleFontSize": 15, "titleFontWeight": "bold", "titleAngle": 270, "titleX": -41, "titleY": 77, "titleAlign": "center", "titleBaseline": "middle", "titleLineHeight": 21}}}},
  {"data": {"values": [{}]}, "mark": {"type": "text", "text": "(111)", "fontSize": 13, "fontWeight": "bold", "color": "#000"},
   "encoding": {
    "x": {"datum": 1.816, "type": "quantitative", "scale": {"domain": [1.5, 2.412], "range": [292, 468], "nice": false, "zero": false}, "axis": null},
    "y": {"datum": 1.38, "type": "quantitative", "scale": {"domain": [-1, 5], "range": [131, 0], "nice": false, "zero": false}, "axis": null}}},
  {"data": {"values": [{}]}, "mark": {"type": "text", "text": "(200)", "fontSize": 13, "fontWeight": "bold", "color": "#000"},
   "encoding": {
    "x": {"datum": 2.267, "type": "quantitative", "scale": {"domain": [1.5, 2.412], "range": [292, 468], "nice": false, "zero": false}, "axis": null},
    "y": {"datum": 4.13, "type": "quantitative", "scale": {"domain": [-1, 5], "range": [131, 0], "nice": false, "zero": false}, "axis": null}}}
 ]
},
{
 "width": 462, "height": 355,
 "view": {"stroke": null},
 "resolve": {"scale": {"x": "independent", "y": "independent"}, "axis": {"x": "independent", "y": "independent"}},
 "layer": [
  {"data": {"name": "nz"}, "mark": {"type": "circle", "size": 90, "color": "#ff0000", "opacity": 1, "clip": true},
   "encoding": {
    "x": {"field": "q", "type": "quantitative", "scale": {"domain": [1, 7.32], "nice": false, "zero": false}, "axis": {"orient": "bottom", "values": [1,2,3,4,5,6,7], "tickSize": -7, "labelFontSize": 15, "labelFontWeight": "bold", "labelPadding": 15, "labelFlush": false, "labelOverlap": false, "title": null}},
    "y": {"field": "d", "type": "quantitative", "scale": {"domain": [0, 11.833], "nice": false, "zero": false}, "axis": {"orient": "left", "values": [1,2,3,4,5,6,7,8,9,10,11], "tickSize": -7, "labels": false, "title": null}}}},
  {"data": {"name": "prof"}, "mark": {"type": "circle", "size": 90, "color": "#ff0000", "opacity": 1, "clip": true},
   "encoding": {
    "x": {"field": "q", "type": "quantitative", "scale": {"domain": [1, 7.32], "nice": false, "zero": false}, "axis": {"orient": "bottom", "values": [1.5,2.5,3.5,4.5,5.5,6.5], "tickSize": -4, "labels": false, "domain": false, "title": null}},
    "y": {"field": "d", "type": "quantitative", "scale": {"domain": [0, 11.833], "nice": false, "zero": false}, "axis": {"orient": "left", "values": [0.5,1.5,2.5,3.5,4.5,5.5,6.5,7.5,8.5,9.5,10.5,11.5], "tickSize": -4, "labels": false, "domain": false, "title": null}}}},
  {"data": {"name": "prof"}, "mark": {"type": "line", "color": "#000", "strokeWidth": 1.8, "clip": true},
   "encoding": {
    "x": {"field": "q", "type": "quantitative", "scale": {"domain": [1, 7.32], "nice": false, "zero": false}, "axis": null},
    "y": {"field": "d", "type": "quantitative", "scale": {"domain": [0, 11.833], "nice": false, "zero": false}, "axis": null}}},
  {"data": {"name": "nz"}, "mark": {"type": "line", "color": "#0000ff", "strokeWidth": 1.2, "clip": true},
   "encoding": {
    "x": {"field": "q", "type": "quantitative", "scale": {"domain": [1, 7.32], "nice": false, "zero": false}, "axis": {"orient": "top", "ticks": false, "labels": false, "domain": true, "title": null}},
    "y": {"field": "h", "type": "quantitative", "scale": {"domain": [0, 11.833], "nice": false, "zero": false}, "axis": null}}},
  {"data": {"name": "bragg"}, "mark": {"type": "rule", "color": "#33dd33", "strokeWidth": 1.6},
   "encoding": {
    "x": {"field": "q", "type": "quantitative", "scale": {"domain": [1, 7.32], "nice": false, "zero": false}, "axis": null},
    "y": {"datum": 1.5, "type": "quantitative", "scale": {"domain": [0, 11.833], "nice": false, "zero": false}, "axis": null},
    "y2": {"datum": 2.05}}},
  {"data": {"values": [{}]}, "mark": {"type": "text", "text": "Quaternary SC", "fontSize": 19, "fontWeight": "bold", "align": "left", "baseline": "alphabetic", "color": "#000"},
   "encoding": {
    "x": {"datum": 1.44, "type": "quantitative", "scale": {"domain": [1, 7.32], "nice": false, "zero": false}, "axis": null},
    "y": {"datum": 10.17, "type": "quantitative", "scale": {"domain": [0, 11.833], "nice": false, "zero": false}, "axis": null}}},
  {"data": {"values": [{}]}, "mark": {"type": "rect", "fillOpacity": 0, "stroke": "#000", "strokeWidth": 1.2, "clip": true},
   "encoding": {
    "x": {"datum": 1.5, "type": "quantitative", "scale": {"domain": [1.5, 2.386], "range": [291, 462], "nice": false, "zero": false}, "axis": null},
    "x2": {"datum": 2.6},
    "y": {"datum": -0.75, "type": "quantitative", "scale": {"domain": [-0.75, 4.69], "range": [128, 0], "nice": false, "zero": false}, "axis": null},
    "y2": {"datum": 4.69}}},
  {"data": {"name": "ins"}, "mark": {"type": "line", "color": "#222", "strokeWidth": 1.3, "interpolate": "monotone", "clip": true},
   "encoding": {
    "x": {"field": "q", "type": "quantitative", "scale": {"domain": [1.5, 2.386], "range": [291, 462], "nice": false, "zero": false},
          "axis": {"orient": "bottom", "offset": -227, "values": [1.5,1.6,1.7,1.8,1.9,2.0,2.1,2.2,2.3], "format": ".1f", "tickSize": -3, "labelFontSize": 11, "labelFontWeight": "bold", "labelPadding": 6, "labelOverlap": false, "labelFlush": false, "domainWidth": 1.2, "title": "Q(Å⁻¹)", "titleFontSize": 15, "titleFontWeight": "bold", "titleX": 436, "titleY": 22, "titleAlign": "center", "titleBaseline": "middle"}},
    "y": {"field": "d", "type": "quantitative", "scale": {"domain": [-0.75, 4.69], "range": [128, 0], "nice": false, "zero": false},
          "axis": {"orient": "left", "offset": -291, "values": [0,1,2,3,4], "tickSize": -4, "labels": false, "domainWidth": 1.2, "title": ["Magnetic intensity", "(arb. units)"], "titleFontSize": 15, "titleFontWeight": "bold", "titleAngle": 270, "titleX": -45, "titleY": 78, "titleAlign": "center", "titleBaseline": "middle", "titleLineHeight": 21}}}},
  {"data": {"values": [{}]}, "mark": {"type": "text", "text": "(111)", "fontSize": 13, "fontWeight": "bold", "color": "#000"},
   "encoding": {
    "x": {"datum": 1.818, "type": "quantitative", "scale": {"domain": [1.5, 2.386], "range": [291, 462], "nice": false, "zero": false}, "axis": null},
    "y": {"datum": 1.48, "type": "quantitative", "scale": {"domain": [-0.75, 4.69], "range": [128, 0], "nice": false, "zero": false}, "axis": null}}},
  {"data": {"values": [{}]}, "mark": {"type": "text", "text": "(200)", "fontSize": 13, "fontWeight": "bold", "color": "#000"},
   "encoding": {
    "x": {"datum": 2.242, "type": "quantitative", "scale": {"domain": [1.5, 2.386], "range": [291, 462], "nice": false, "zero": false}, "axis": null},
    "y": {"datum": 3.91, "type": "quantitative", "scale": {"domain": [-0.75, 4.69], "range": [128, 0], "nice": false, "zero": false}, "axis": null}}}
 ]
}
]
}
